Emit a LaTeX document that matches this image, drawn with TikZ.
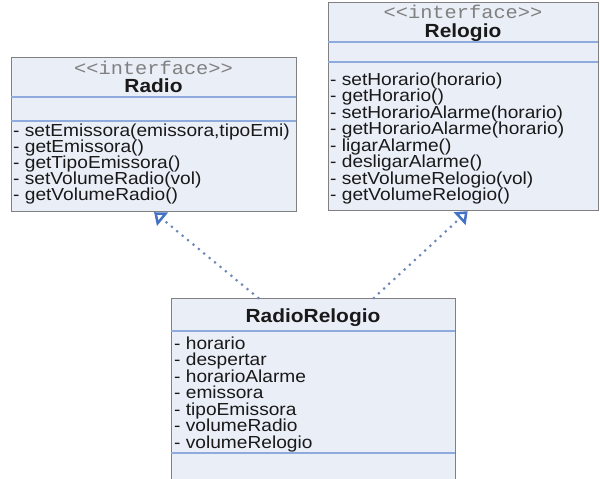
\documentclass[tikz,border=0pt]{standalone}
\usepackage{fontspec}
\setmainfont{Liberation Sans}
\newfontfamily\umlsans[FakeStretch=1.1]{Liberation Sans}
\newfontfamily\umlmono[FakeStretch=1.1]{Liberation Mono}
\usetikzlibrary{arrows.meta,calc}
\definecolor{boxfill}{HTML}{E9EEF7}
\definecolor{boxline}{HTML}{808080}
\definecolor{sepcol}{HTML}{8FAADC}
\definecolor{dotcol}{HTML}{6C87B8}
\definecolor{tipcol}{HTML}{4472C4}
\definecolor{stereocol}{HTML}{808080}
\tikzset{
  umlbox/.style={draw=boxline, fill=boxfill, line width=1.2pt, anchor=north west, inner sep=0pt},
  sepline/.style={draw=sepcol, line width=1.2pt},
  member/.style={anchor=base west, inner sep=0pt, font=\umlsans\fontsize{17.4}{16}\selectfont, text=black!90},
  umltitle/.style={anchor=base, inner sep=0pt, font=\umlsans\bfseries\fontsize{19}{18}\selectfont, text=black!90},
  stereotype/.style={anchor=base, inner sep=0pt, font=\umlmono\fontsize{18.5}{18}\selectfont, text=stereocol},
  realize/.style={draw=dotcol, line width=3pt, line cap=round, dash pattern=on 0pt off 7pt,
    -{Triangle[open, length=11pt, width=17pt, line width=2.5pt, color=tipcol]}}
}
\begin{document}
\begin{tikzpicture}[x=1pt,y=-1pt]
\useasboundingbox (0,0) rectangle (600,479);
\fill[white] (0,0) rectangle (600,479);
\clip (0,0) rectangle (600,479);

% ---------- Radio ----------
\node[umlbox, minimum width=285pt, minimum height=154pt] (radio) at (11,57) {};
\draw[sepline] (11,97) -- (296,97);
\draw[sepline] (11,121) -- (296,121);
\node[stereotype] (radiost) at (153.5,74) {<<interface>>};
\node[umltitle] (radiotitle) at (153.5,92) {Radio};
\node[member] (rm1) at (13,136) {- setEmissora(emissora,tipoEmi)};
\node[member] (rm2) at (13,152) {- getEmissora()};
\node[member] (rm3) at (13,168) {- getTipoEmissora()};
\node[member] (rm4) at (13,184) {- setVolumeRadio(vol)};
\node[member] (rm5) at (13,200) {- getVolumeRadio()};

% ---------- Relogio ----------
\node[umlbox, minimum width=270pt, minimum height=208pt] (relogio) at (328,2) {};
\draw[sepline] (328,42) -- (598,42);
\draw[sepline] (328,62) -- (598,62);
\node[stereotype] (relst) at (463,19) {<<interface>>};
\node[umltitle] (reltitle) at (463,37) {Relogio};
\node[member] (lm1) at (330,85) {- setHorario(horario)};
\node[member] (lm2) at (330,101.5) {- getHorario()};
\node[member] (lm3) at (330,118) {- setHorarioAlarme(horario)};
\node[member] (lm4) at (330,134.5) {- getHorarioAlarme(horario)};
\node[member] (lm5) at (330,151) {- ligarAlarme()};
\node[member] (lm6) at (330,167.5) {- desligarAlarme()};
\node[member] (lm7) at (330,184) {- setVolumeRelogio(vol)};
\node[member] (lm8) at (330,200.5) {- getVolumeRelogio()};

% ---------- RadioRelogio ----------
\node[umlbox, minimum width=284pt, minimum height=200pt] (rr) at (171,298) {};
\draw[sepline] (171,331) -- (455,331);
\draw[sepline] (171,453) -- (455,453);
\node[umltitle] (rrtitle) at (313,322) {RadioRelogio};
\node[member] (am1) at (174,349) {- horario};
\node[member] (am2) at (174,365.5) {- despertar};
\node[member] (am3) at (174,382) {- horarioAlarme};
\node[member] (am4) at (174,398.5) {- emissora};
\node[member] (am5) at (174,415) {- tipoEmissora};
\node[member] (am6) at (174,431.5) {- volumeRadio};
\node[member] (am7) at (174,448) {- volumeRelogio};

% ---------- realizations ----------
\draw[realize] ($(rr.north west)!0.306!(rr.north east)$) -- (radio.south);
\draw[realize] ($(rr.north west)!0.711!(rr.north east)$) -- ($(relogio.south west)!0.515!(relogio.south east)$);
\end{tikzpicture}
\end{document}
